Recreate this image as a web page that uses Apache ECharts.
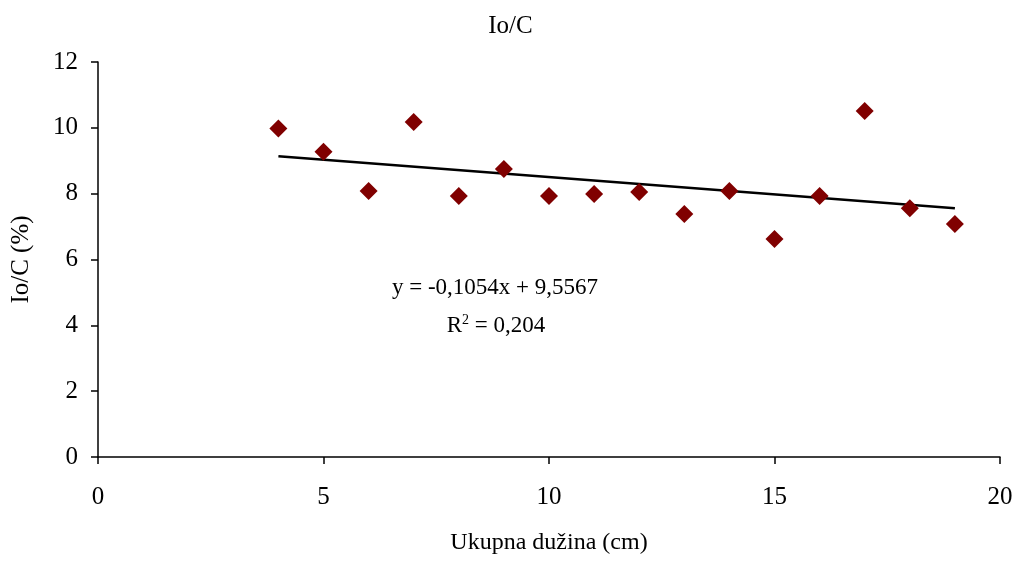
<!DOCTYPE html>
<html>
<head>
<meta charset="utf-8">
<script src="https://cdn.jsdelivr.net/npm/echarts@6/dist/echarts.min.js"></script>
<style>html,body{margin:0;padding:0;background:#fff;overflow:hidden;}#c{width:1021px;height:566px;}</style>
</head>
<body>
<div id="c"></div>
<script>
var lengthsCm = [4, 5, 6, 7, 8, 9, 10, 11, 12, 13, 14, 15, 16, 17, 18, 19];
var ioC = [9.98, 9.27, 8.08, 10.18, 7.93, 8.75, 7.93, 7.99, 8.05, 7.38, 8.08, 6.62, 7.93, 10.51, 7.56, 7.08];
var trendX = [4, 19];
var trendY = [9.135, 7.554];
var xTicks = [0, 5, 10, 15, 20];
var yTicks = [0, 2, 4, 6, 8, 10, 12];
var equationText = 'y = -0,1054x + 9,5567';
var r2Text = '0,204';

var font = '"Liberation Serif","Times New Roman",serif';
var chart = echarts.init(document.getElementById('c'), null, {renderer: 'canvas'});
chart.setOption({
  animation: false,
  backgroundColor: '#fff',
  title: {
    text: 'Io/C', left: 'center', top: 9,
    textStyle: {fontFamily: font, fontSize: 25, fontWeight: 'normal', color: '#000'}
  },
  grid: {left: 98, right: 21, top: 62, bottom: 109, containLabel: false},
  xAxis: {
    type: 'value', min: xTicks[0], max: xTicks[xTicks.length - 1], interval: 5,
    name: 'Ukupna dužina (cm)', nameLocation: 'middle', nameGap: 74,
    nameTextStyle: {fontFamily: font, fontSize: 24, color: '#000'},
    axisLine: {show: true, onZero: false, lineStyle: {color: '#000', width: 1.5}},
    axisTick: {show: true, length: 7, lineStyle: {color: '#000', width: 1.5}},
    axisLabel: {fontFamily: font, fontSize: 25, color: '#000', margin: 28},
    splitLine: {show: false}
  },
  yAxis: {
    type: 'value', min: yTicks[0], max: yTicks[yTicks.length - 1], interval: 2,
    name: 'Io/C (%)', nameLocation: 'middle', nameGap: 64, nameRotate: 90,
    nameTextStyle: {fontFamily: font, fontSize: 25, color: '#000'},
    axisLine: {show: true, onZero: false, lineStyle: {color: '#000', width: 1.5}},
    axisTick: {show: true, length: 7, lineStyle: {color: '#000', width: 1.5}},
    axisLabel: {fontFamily: font, fontSize: 25, color: '#000', margin: 20},
    splitLine: {show: false}
  },
  series: [
    {
      type: 'line',
      data: trendX.map(function (x, i) { return [x, trendY[i]]; }),
      symbol: 'none',
      lineStyle: {color: '#000', width: 2.5},
      z: 3
    },
    {
      type: 'scatter',
      data: lengthsCm.map(function (x, i) { return [x, ioC[i]]; }),
      symbol: 'diamond',
      symbolSize: [18, 18],
      itemStyle: {color: '#800000', opacity: 1},
      z: 4
    }
  ],
  graphic: [
    {
      type: 'text', x: 495, y: 288,
      style: {
        text: equationText, fontFamily: font, fontSize: 23, fill: '#000',
        align: 'center', verticalAlign: 'middle'
      }
    },
    {
      type: 'text', x: 496, y: 326,
      style: {
        text: 'R{sup|2} = ' + r2Text, fontFamily: font, fontSize: 23, fill: '#000',
        align: 'center', verticalAlign: 'middle',
        rich: {sup: {fontFamily: font, fontSize: 14, verticalAlign: 'top', padding: [0, 0, 12, 0]}}
      }
    }
  ]
});
</script>
</body>
</html>
